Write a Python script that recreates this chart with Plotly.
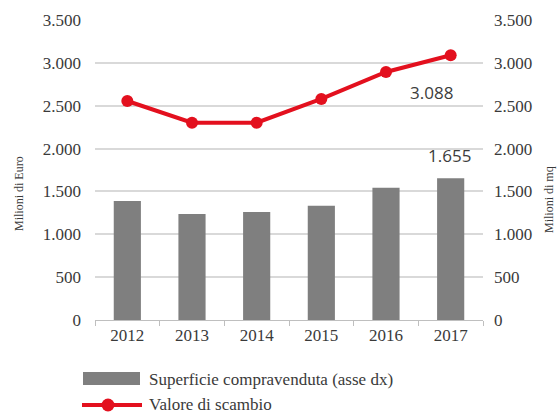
import plotly.graph_objects as go

years = ["2012", "2013", "2014", "2015", "2016", "2017"]
valore_scambio = [2555, 2302, 2302, 2579, 2894, 3088]          # Milioni di Euro
superficie = [1389, 1237, 1260, 1334, 1544, 1655]              # Milioni di mq (asse dx)
tick_vals = [0, 500, 1000, 1500, 2000, 2500, 3000, 3500]

BAR_COLOR = "#7f7f7f"
LINE_COLOR = "#e3101e"
SERIF = "Liberation Serif, Times New Roman, serif"
TEXT_COLOR = "#3a3a3a"

# plot area geometry in pixels (used for the hand-made legend)
PLOT_L, PLOT_T, PLOT_W, PLOT_H = 95, 20, 388, 300


def it_num(v):
    return f"{v:,}".replace(",", ".")


def px_x(x):
    return (x - PLOT_L) / PLOT_W


def px_y(y):
    return (PLOT_T + PLOT_H - y) / PLOT_H


tick_text = [it_num(v) for v in tick_vals]
last = len(years) - 1

fig = go.Figure()

fig.add_trace(go.Bar(
    x=years, y=superficie, yaxis="y2",
    marker=dict(color=BAR_COLOR, line=dict(width=0)),
    width=0.42, name="Superficie compravenduta (asse dx)",
    showlegend=False,
))

fig.add_trace(go.Scatter(
    x=years, y=valore_scambio, yaxis="y",
    mode="lines+markers",
    line=dict(color=LINE_COLOR, width=4),
    marker=dict(color=LINE_COLOR, size=12),
    name="Valore di scambio", showlegend=False,
))

# value labels for the last year (x given as category index)
fig.add_annotation(x=last, y=valore_scambio[-1], xref="x", yref="y",
                   text=it_num(valore_scambio[-1]), showarrow=False,
                   xshift=-19, yshift=-37,
                   font=dict(family="Open Sans", size=17, color="#3c3c3c"))
fig.add_annotation(x=last, y=superficie[-1], xref="x", yref="y2",
                   text=it_num(superficie[-1]), showarrow=False,
                   xshift=-1, yshift=23,
                   font=dict(family="Open Sans", size=17, color="#3c3c3c"))

# axis titles
fig.add_annotation(x=px_x(19), xref="paper", y=px_y(194), yref="paper",
                   text="Milioni di Euro", textangle=-90, showarrow=False,
                   xanchor="center", yanchor="middle",
                   font=dict(family=SERIF, size=12, color=TEXT_COLOR))
fig.add_annotation(x=px_x(549), xref="paper", y=px_y(200), yref="paper",
                   text="Milioni di mq", textangle=-90, showarrow=False,
                   xanchor="center", yanchor="middle",
                   font=dict(family=SERIF, size=12, color=TEXT_COLOR))

# hand-made legend below the plot
fig.add_shape(type="rect", xref="paper", yref="paper",
              x0=px_x(83), x1=px_x(140), y0=px_y(372), y1=px_y(385),
              fillcolor=BAR_COLOR, line=dict(width=0))
fig.add_shape(type="line", xref="paper", yref="paper",
              x0=px_x(82), x1=px_x(142), y0=px_y(405), y1=px_y(405),
              line=dict(color=LINE_COLOR, width=4))
fig.add_shape(type="circle", xref="paper", yref="paper",
              xsizemode="pixel", ysizemode="pixel",
              xanchor=px_x(108), yanchor=px_y(405),
              x0=-6.5, x1=6.5, y0=-6.5, y1=6.5,
              fillcolor=LINE_COLOR, line=dict(width=0))
fig.add_annotation(x=px_x(147), xref="paper", y=px_y(379), yref="paper",
                   text="Superficie compravenduta (asse dx)", showarrow=False,
                   xanchor="left", yanchor="middle",
                   font=dict(family=SERIF, size=17, color=TEXT_COLOR))
fig.add_annotation(x=px_x(147), xref="paper", y=px_y(405), yref="paper",
                   text="Valore di scambio", showarrow=False,
                   xanchor="left", yanchor="middle",
                   font=dict(family=SERIF, size=17, color=TEXT_COLOR))

fig.update_layout(
    width=557, height=416,
    margin=dict(l=PLOT_L, r=557 - PLOT_L - PLOT_W, t=PLOT_T, b=416 - PLOT_T - PLOT_H),
    paper_bgcolor="white", plot_bgcolor="white",
    separators=",.",
    xaxis=dict(
        type="category", categoryorder="array", categoryarray=years,
        range=[-0.5, len(years) - 0.5],
        tickson="boundaries", ticks="outside", ticklen=5,
        tickcolor="#bfbfbf", showline=True, linecolor="#bfbfbf", linewidth=1,
        showgrid=False, tickangle=0,
        tickfont=dict(family=SERIF, size=17, color=TEXT_COLOR),
    ),
    yaxis=dict(
        range=[0, 3500], tickvals=tick_vals, ticktext=tick_text,
        showgrid=True, gridcolor="#d9d9d9", gridwidth=1.5,
        zeroline=False, showline=False,
        tickfont=dict(family=SERIF, size=17, color=TEXT_COLOR),
        ticklabelstandoff=13,
    ),
    yaxis2=dict(
        range=[0, 3500], tickvals=tick_vals, ticktext=tick_text,
        overlaying="y", side="right", showgrid=False, zeroline=False,
        tickfont=dict(family=SERIF, size=17, color=TEXT_COLOR),
        ticklabelstandoff=10,
    ),
)

fig.write_html("out.html")
